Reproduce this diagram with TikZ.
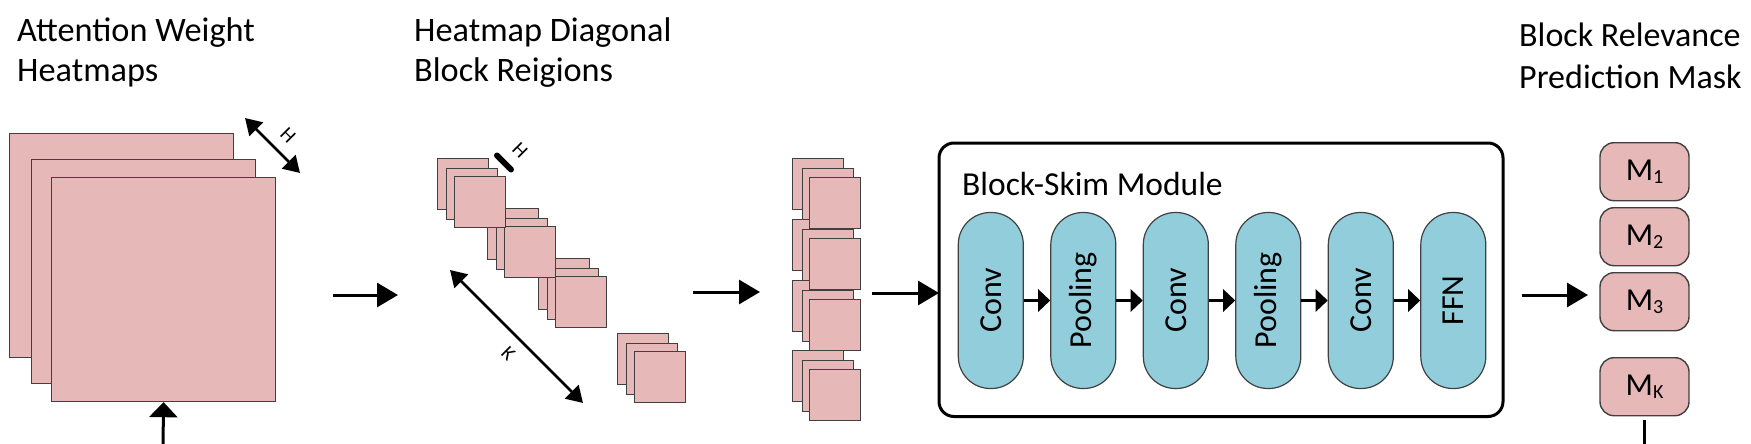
\documentclass[tikz,border=0pt]{standalone}
\usepackage{fontspec}
\setmainfont{Carlito}
\usetikzlibrary{arrows.meta}
\definecolor{pinkfill}{HTML}{E6B8B7}
\definecolor{bluefill}{HTML}{92CDDC}
\definecolor{edgegray}{HTML}{404040}
\newcommand{\msub}[1]{M\raisebox{-3pt}{\fontsize{20}{20}\selectfont #1}}
\begin{document}
\begin{tikzpicture}[x=1pt,y=-1pt,
  bigsq/.style={draw=edgegray, fill=pinkfill, line width=1.2pt, minimum size=224pt, inner sep=0pt, anchor=north west},
  smsq/.style={draw=edgegray, fill=pinkfill, line width=1.2pt, minimum size=51pt, inner sep=0pt, anchor=north west},
  title/.style={font=\fontsize{34.3}{40}\selectfont, align=left, inner sep=0pt, anchor=base west},
  pill/.style={draw=edgegray, fill=bluefill, line width=1.2pt, minimum width=65pt, minimum height=176pt, rounded corners=32pt, inner sep=0pt},
  pilltxt/.style={rotate=90, font=\fontsize{32}{32}\selectfont, inner sep=0pt},
  mbox/.style={draw=edgegray, fill=pinkfill, line width=1.4pt, minimum width=89pt, minimum height=58pt, rounded corners=14pt, inner sep=0pt, font=\fontsize{32}{32}\selectfont},
  arr/.style={line width=3pt, -{Triangle[length=21pt,width=24pt]}},
  uparr/.style={line width=3pt, -{Triangle[length=15pt,width=28pt]}},
  parr/.style={line width=3pt, -{Triangle[length=12pt,width=22pt]}},
  dimarr/.style={line width=2.7pt, {Triangle[length=16pt,width=19pt]}-{Triangle[length=16pt,width=19pt]}},
  dimlbl/.style={rotate=-45, font=\fontsize{20}{20}\selectfont, inner sep=0pt},
]
\useasboundingbox (0,0) rectangle (1751,444);

% titles (base anchor = last line)
\node[title] (t1) at (17,81.7) {Attention Weight\\Heatmaps};
\node[title] (t2) at (414,81.7) {Heatmap Diagonal\\Block Reigions};
\node[title, font=\fontsize{34}{41.6}\selectfont] (t3) at (1519,88.3) {Block Relevance\\Prediction Mask};

% big heatmaps
\node[bigsq] (hb) at (9,133) {};
\node[bigsq] (hm) at (31,159) {};
\node[bigsq] (hf) at (51,177) {};
\coordinate (h1) at (245,118);
\coordinate (h2) at (300,173);
\draw[dimarr] (h1) -- (h2);
\node[dimlbl] (hlab) at (288,135) {H};
\coordinate (upin) at (163,444);
\draw[uparr] (upin) -- (hf.south);

% arrow 1
\coordinate (a1s) at (333,295);
\coordinate (a1e) at (398,295);
\draw[arr] (a1s) -- (a1e);

% diagonal blocks
\foreach \g/\x/\y in {4/617/333, 3/538/258, 2/487/208, 1/437/158} {
  \node[smsq] (d\g-a) at (\x,\y) {};
  \node[smsq] (d\g-b) at (\x+9,\y+10) {};
  \node[smsq] (d\g-c) at (\x+17,\y+18) {};
}
\coordinate (hb1) at (497,155.5);
\coordinate (hb2) at (511,169.5);
\draw[line width=6pt, line cap=round] (hb1) -- (hb2);
\node[dimlbl] (hlab2) at (520,150) {H};
\coordinate (k1) at (450,270);
\coordinate (k2) at (583,403);
\draw[dimarr] (k1) -- (k2);
\node[dimlbl] (klab) at (508.3,353.3) {K};

% arrow 2
\coordinate (a2s) at (693,292);
\coordinate (a2e) at (760,292);
\draw[arr] (a2s) -- (a2e);

% stacked blocks
\foreach \g/\y in {4/350, 3/280, 2/219, 1/158} {
  \node[smsq] (s\g-a) at (792,\y) {};
  \node[smsq] (s\g-b) at (802,\y+10) {};
  \node[smsq] (s\g-c) at (809,\y+18.5) {};
}

% Block-Skim module
\node[draw, line width=3pt, rounded corners=15pt, minimum width=564pt, minimum height=273.5pt, inner sep=0pt, outer sep=0pt, anchor=north west] (bsm) at (939,143) {};
\node[font=\fontsize{33.5}{40}\selectfont, anchor=base west, inner sep=0pt] (bsmt) at (962,195) {Block-Skim Module};
\coordinate (a3s) at (872,293);
\draw[arr] (a3s) -- (a3s -| bsm.west);

\foreach \i/\cx/\t in {1/990.8/Conv, 2/1083.3/Pooling, 3/1175.8/Conv, 4/1268.3/Pooling, 5/1360.8/Conv, 6/1453.3/FFN} {
  \node[pill] (p\i) at (\cx,300.5) {};
  \node[pilltxt] (pt\i) at (p\i.center) {\t};
}
\foreach \i/\j in {1/2,2/3,3/4,4/5,5/6} {
  \draw[parr] (p\i.east) -- (p\j.west);
}

% masks
\node[mbox] (m1) at (1644.5,171.7) {\msub{1}};
\node[mbox] (m2) at (1644.5,236.7) {\msub{2}};
\node[mbox] (m3) at (1644.5,301.7) {\msub{3}};
\node[mbox] (mk) at (1644.5,386.7) {\msub{K}};
\coordinate (a4s) at (1522,295);
\coordinate (a4e) at (1588,295);
\draw[arr] (a4s) -- (a4e);
\draw[line width=3pt] ([yshift=-4pt]mk.south) -- (mk.south |- upin);
\end{tikzpicture}
\end{document}
